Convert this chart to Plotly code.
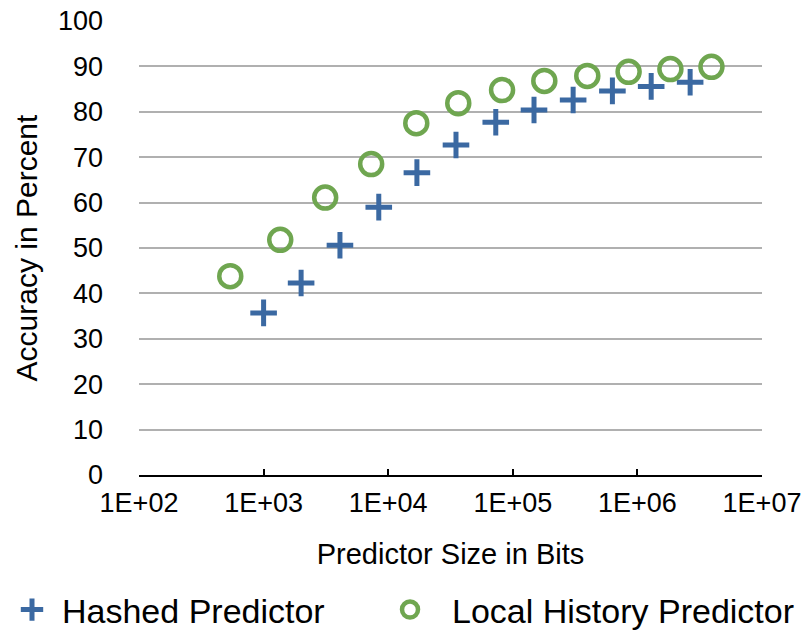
import plotly.graph_objects as go

# Data
hashed_bits = [1000, 2000, 4100, 8400, 17000, 35000, 73000, 148000, 305000, 630000, 1290000, 2650000]
hashed_acc = [35.7, 42.3, 50.6, 59.0, 66.6, 72.7, 77.7, 80.4, 82.6, 84.6, 85.6, 86.5]

local_bits = [540, 1360, 3120, 7300, 16800, 36500, 82000, 179000, 396000, 850000, 1840000, 3930000]
local_acc = [43.8, 51.8, 61.1, 68.5, 77.5, 81.9, 84.8, 86.8, 87.9, 88.8, 89.4, 89.9]

x_tickvals = [1e2, 1e3, 1e4, 1e5, 1e6, 1e7]
x_ticktext = ["1E+02", "1E+03", "1E+04", "1E+05", "1E+06", "1E+07"]

BLUE = "#3b69a2"
GREEN = "#6fa650"
FONT = "Liberation Sans, Arial, Helvetica, sans-serif"

fig = go.Figure()
fig.add_trace(go.Scatter(
    x=hashed_bits, y=hashed_acc, mode="markers", name="Hashed Predictor",
    marker=dict(symbol="cross-thin", size=19, color=BLUE,
                line=dict(color=BLUE, width=5)),
    legend="legend",
))
fig.add_trace(go.Scatter(
    x=local_bits, y=local_acc, mode="markers", name="Local History Predictor",
    marker=dict(symbol="circle-open", size=22, color=GREEN,
                line=dict(color=GREEN, width=4.5)),
    legend="legend2",
))

fig.update_layout(
    width=807, height=631,
    margin=dict(l=139, r=45, t=21, b=156, autoexpand=False),
    paper_bgcolor="white", plot_bgcolor="white",
    font=dict(family=FONT, color="black", size=27),
    showlegend=True,
    legend=dict(
        orientation="h", x=-0.2199, xanchor="left", y=-0.2974, yanchor="middle",
        font=dict(size=34, family=FONT, color="black"),
        itemwidth=50, bgcolor="rgba(0,0,0,0)",
    ),
    legend2=dict(
        orientation="h", x=0.3676, xanchor="left", y=-0.2974, yanchor="middle",
        font=dict(size=34, family=FONT, color="black"),
        itemwidth=74, bgcolor="rgba(0,0,0,0)",
    ),
)

fig.update_xaxes(
    type="log", range=[2, 7],
    tickvals=x_tickvals, ticktext=x_ticktext,
    tickfont=dict(size=27),
    showline=True, linecolor="black", linewidth=2,
    ticks="inside", ticklen=6, tickwidth=2, tickcolor="black",
    showgrid=False, zeroline=False,
    ticklabelstandoff=3,
    title=dict(text="Predictor Size in Bits", font=dict(size=29), standoff=26),
)
fig.update_yaxes(
    range=[0, 100], dtick=10, tick0=0,
    tickfont=dict(size=27),
    showgrid=True, gridcolor="#b0b0b0", gridwidth=2,
    showline=False, zeroline=False, ticks="",
    ticklabelstandoff=35,
    title=dict(text="Accuracy in Percent", font=dict(size=30), standoff=11),
)

fig.write_html("out.html")
